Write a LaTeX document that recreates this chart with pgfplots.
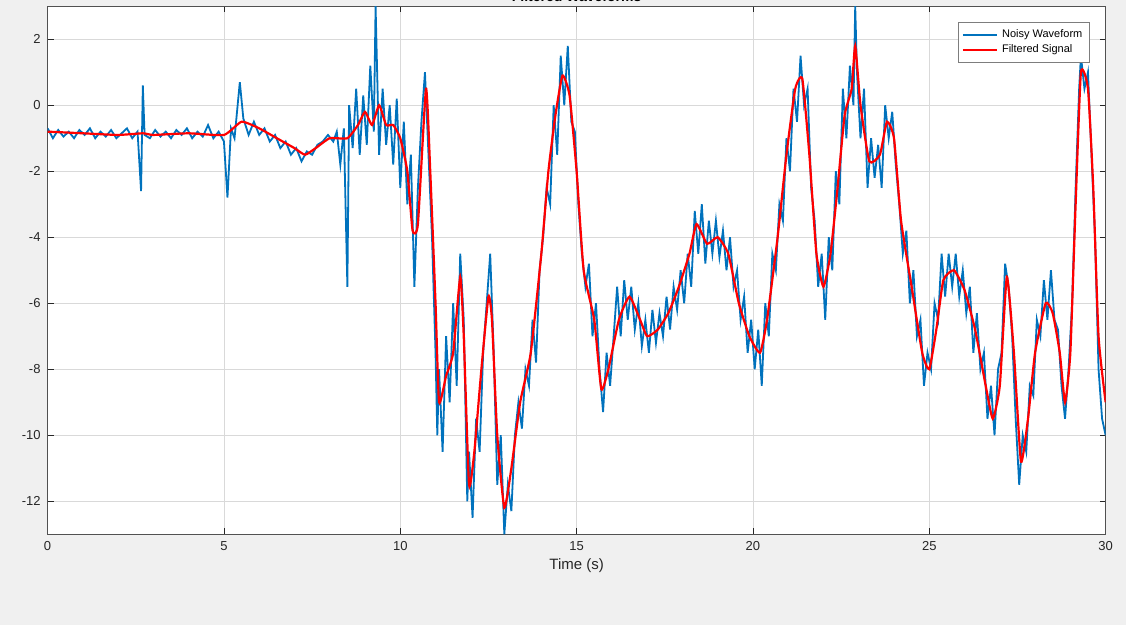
\documentclass[border=0pt]{standalone}
\usepackage{pgfplots}
\pgfplotsset{compat=1.18}
\usepackage{fontspec}
\setmainfont{Liberation Sans}
\definecolor{mblue}{RGB}{0,114,189}
\definecolor{bg}{RGB}{240,240,240}
\definecolor{tk}{RGB}{38,38,38}
\begin{document}
\begin{tikzpicture}[x=1pt,y=1pt]
\fill[bg] (0,0) rectangle (563,312.5);
\begin{axis}[at={(13.5,27.5)},anchor=south west,scale only axis,width=529pt,height=264pt,
 xmin=0,xmax=30,ymin=-13,ymax=3,axis background/.style={fill=white},
 xtick={0,5,...,30},ytick={-12,-10,...,2},grid=major,
 grid style={color=black!15,line width=0.3pt},
 axis line style={color=tk!80,line width=0.4pt},
 tick style={color=tk},tick align=inside,major tick length=3pt,
 every tick label/.append style={font=\fontsize{6.5}{7}\selectfont,text=tk},
 /pgf/number format/assume math mode=true,
 xlabel={Time (s)},xlabel style={font=\fontsize{7.5}{8}\selectfont,text=tk,yshift=3pt},
 title={\textbf{Filtered Waveforms}},title style={font=\fontsize{7}{8}\selectfont,yshift=-7pt},
 legend style={at={(0.985,0.97)},anchor=north east,font=\fontsize{5.5}{6}\selectfont,draw=tk!60,line width=0.4pt,row sep=-2pt,inner sep=1.5pt},
 legend cell align=left]
\addplot[mblue,line width=0.9pt] coordinates {
(0,-0.7)(0.15,-1.0)(0.3,-0.75)(0.45,-0.95)(0.6,-0.8)(0.75,-1.0)(0.9,-0.75)(1.05,-0.9)(1.2,-0.7)(1.35,-1.0)(1.5,-0.8)(1.65,-0.95)(1.8,-0.75)(1.95,-1.0)(2.1,-0.85)(2.25,-0.7)(2.4,-1.0)(2.55,-0.8)(2.65,-2.6)(2.7,0.6)(2.75,-0.9)(2.9,-1.0)(3.05,-0.75)(3.2,-0.95)(3.35,-0.8)(3.5,-1.0)(3.65,-0.75)(3.8,-0.9)(3.95,-0.7)(4.1,-1.0)(4.25,-0.8)(4.4,-0.95)(4.55,-0.6)(4.7,-1.0)(4.85,-0.8)(5.0,-1.1)(5.1,-2.8)(5.2,-0.7)(5.3,-1.0)(5.45,0.7)(5.55,-0.4)(5.7,-0.9)(5.85,-0.5)(6.0,-0.9)(6.15,-0.7)(6.3,-1.1)(6.45,-0.9)(6.6,-1.3)(6.75,-1.1)(6.9,-1.5)(7.05,-1.3)(7.2,-1.7)(7.35,-1.4)(7.5,-1.5)(7.65,-1.2)(7.8,-1.1)(7.95,-0.9)(8.1,-1.1)(8.2,-0.8)(8.3,-1.8)(8.4,-0.7)(8.5,-5.5)(8.55,0.0)(8.65,-1.3)(8.75,0.5)(8.85,-1.5)(8.95,0.3)(9.05,-1.2)(9.15,1.2)(9.25,-0.8)(9.3,3.0)(9.4,-1.5)(9.5,0.5)(9.6,-1.2)(9.7,0.0)(9.8,-1.8)(9.9,0.2)(10.0,-2.5)(10.1,-0.5)(10.2,-3.0)(10.3,-1.5)(10.4,-5.5)(10.5,-2.5)(10.6,-0.5)(10.7,1.0)(10.8,-1.5)(10.9,-4.0)(11.0,-7.5)(11.05,-10.0)(11.1,-8.0)(11.2,-10.5)(11.3,-7.0)(11.4,-9.0)(11.5,-6.0)(11.6,-8.5)(11.7,-4.5)(11.8,-6.5)(11.9,-12.0)(11.95,-10.5)(12.05,-12.5)(12.15,-9.5)(12.25,-10.5)(12.35,-7.5)(12.45,-6.0)(12.55,-4.5)(12.65,-7.5)(12.75,-11.5)(12.85,-10.0)(12.95,-13.0)(13.05,-11.5)(13.15,-12.3)(13.25,-10.0)(13.35,-9.0)(13.45,-9.8)(13.55,-8.0)(13.65,-8.5)(13.75,-6.5)(13.85,-7.8)(13.95,-5.0)(14.05,-4.0)(14.15,-2.5)(14.25,-3.0)(14.35,0.0)(14.45,-1.5)(14.55,1.5)(14.65,0.0)(14.75,1.8)(14.85,-0.5)(14.95,-0.8)(15.05,-3.0)(15.15,-4.5)(15.25,-5.5)(15.35,-4.8)(15.45,-7.0)(15.55,-6.0)(15.65,-8.0)(15.75,-9.3)(15.85,-7.5)(15.95,-8.5)(16.05,-7.0)(16.15,-5.5)(16.25,-7.0)(16.35,-5.3)(16.45,-6.5)(16.55,-5.5)(16.65,-6.8)(16.75,-6.0)(16.85,-7.3)(16.95,-6.5)(17.05,-7.5)(17.15,-6.2)(17.25,-7.2)(17.35,-6.3)(17.45,-7.0)(17.55,-5.8)(17.65,-6.8)(17.75,-5.5)(17.85,-6.2)(17.95,-5.0)(18.05,-6.0)(18.15,-4.5)(18.25,-5.5)(18.35,-3.2)(18.45,-4.5)(18.55,-3.0)(18.65,-4.8)(18.75,-3.5)(18.85,-4.5)(18.95,-3.5)(19.05,-4.6)(19.15,-3.8)(19.25,-5.0)(19.35,-4.0)(19.45,-5.5)(19.55,-5.0)(19.65,-6.5)(19.75,-5.8)(19.85,-7.5)(19.95,-6.5)(20.05,-8.0)(20.15,-6.8)(20.25,-8.5)(20.35,-6.0)(20.45,-7.0)(20.55,-4.5)(20.65,-5.0)(20.75,-3.0)(20.85,-3.5)(20.95,-1.0)(21.05,-2.0)(21.15,0.5)(21.25,-0.5)(21.35,1.5)(21.45,0.0)(21.55,0.5)(21.65,-2.5)(21.75,-3.5)(21.85,-5.5)(21.95,-4.5)(22.05,-6.5)(22.15,-4.0)(22.25,-5.0)(22.35,-2.0)(22.45,-3.0)(22.55,0.5)(22.65,-1.0)(22.75,1.2)(22.85,0.0)(22.9,3.0)(22.95,1.0)(23.05,-1.0)(23.15,0.5)(23.25,-2.5)(23.35,-1.0)(23.45,-2.2)(23.55,-1.2)(23.65,-2.5)(23.75,0.0)(23.85,-1.0)(23.95,-0.2)(24.05,-1.8)(24.15,-3.0)(24.25,-4.5)(24.35,-3.8)(24.45,-6.0)(24.55,-5.0)(24.65,-7.0)(24.75,-6.5)(24.85,-8.5)(24.95,-7.5)(25.05,-8.0)(25.15,-6.0)(25.25,-6.5)(25.35,-4.5)(25.45,-5.8)(25.55,-4.5)(25.65,-5.5)(25.75,-4.5)(25.85,-5.8)(25.95,-5.0)(26.05,-6.3)(26.15,-5.5)(26.25,-7.5)(26.35,-6.3)(26.45,-8.0)(26.55,-7.5)(26.65,-9.5)(26.75,-8.5)(26.85,-10.0)(26.95,-8.0)(27.05,-7.5)(27.15,-4.8)(27.25,-5.5)(27.35,-7.0)(27.45,-9.5)(27.55,-11.5)(27.65,-10.0)(27.75,-10.5)(27.85,-8.5)(27.95,-8.8)(28.05,-6.5)(28.15,-7.0)(28.25,-5.3)(28.35,-6.5)(28.45,-5.0)(28.55,-6.5)(28.65,-6.8)(28.75,-8.5)(28.85,-9.5)(28.95,-8.0)(29.05,-6.0)(29.15,-2.5)(29.25,0.5)(29.3,1.5)(29.4,0.5)(29.5,1.0)(29.6,-1.5)(29.7,-4.0)(29.8,-8.0)(29.9,-9.5)(30,-10.0)};
\addlegendentry{Noisy Waveform}
\addplot[red,line width=1.1pt,smooth,tension=0.3] coordinates {
(0,-0.8)(1,-0.85)(2,-0.9)(2.7,-0.85)(3,-0.9)(4,-0.85)(5,-0.9)(5.5,-0.5)(6,-0.7)(6.5,-1.0)(7,-1.3)(7.3,-1.5)(7.6,-1.3)(8,-1.0)(8.5,-1.0)(8.8,-0.6)(9.0,-0.2)(9.2,-0.6)(9.4,0.0)(9.6,-0.6)(9.8,-0.6)(10.0,-1.0)(10.2,-2.0)(10.35,-3.8)(10.5,-3.6)(10.73,0.5)(10.85,-2)(11.0,-6)(11.1,-9.0)(11.3,-8.2)(11.5,-7.5)(11.7,-5.2)(11.8,-7)(11.95,-11.5)(12.1,-10.5)(12.3,-8.0)(12.5,-5.8)(12.6,-6.5)(12.75,-10)(12.95,-12.2)(13.15,-11.0)(13.4,-9.0)(13.7,-7.5)(14.0,-4.5)(14.2,-2.0)(14.4,-0.3)(14.6,0.9)(14.8,0.3)(15.0,-2.0)(15.2,-5.0)(15.5,-6.5)(15.7,-8.6)(15.9,-8.0)(16.2,-6.5)(16.5,-5.8)(16.8,-6.5)(17.0,-7.0)(17.3,-6.8)(17.6,-6.3)(17.9,-5.5)(18.2,-4.5)(18.4,-3.6)(18.7,-4.2)(19.0,-4.0)(19.3,-4.5)(19.6,-6.0)(19.9,-7.0)(20.2,-7.5)(20.4,-6.5)(20.7,-4.0)(20.95,-1.5)(21.2,0.5)(21.4,0.8)(21.6,-1.5)(21.8,-4.5)(22.0,-5.5)(22.2,-4.5)(22.4,-2.5)(22.6,-0.3)(22.8,0.5)(22.9,1.8)(23.05,0.0)(23.3,-1.7)(23.6,-1.5)(23.8,-0.5)(24.0,-1.0)(24.2,-3.5)(24.5,-5.5)(24.8,-7.5)(25.0,-8.0)(25.2,-6.8)(25.4,-5.3)(25.7,-5.0)(26.0,-5.6)(26.3,-6.8)(26.6,-8.5)(26.8,-9.5)(27.0,-8.5)(27.2,-5.2)(27.4,-7.5)(27.6,-10.8)(27.8,-9.5)(28.0,-7.5)(28.3,-6.0)(28.5,-6.3)(28.7,-7.5)(28.85,-9.0)(29.0,-7.5)(29.15,-3.0)(29.3,1.0)(29.5,0.5)(29.65,-2.5)(29.8,-7.0)(30,-9.0)};
\addlegendentry{Filtered Signal}
\end{axis}
\pgfresetboundingbox
\path[use as bounding box] (0,0) rectangle (563,312.5);
\end{tikzpicture}
\end{document}
